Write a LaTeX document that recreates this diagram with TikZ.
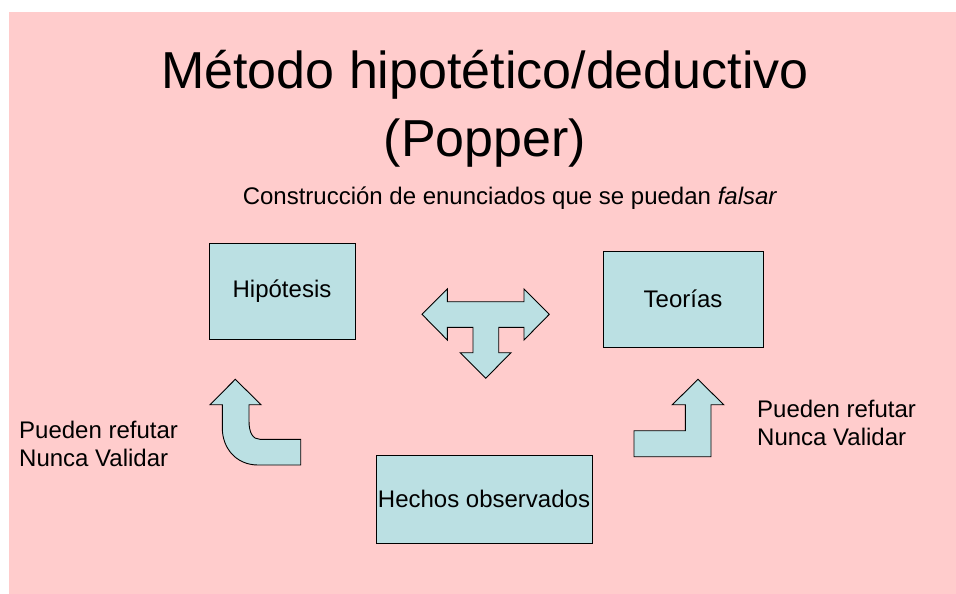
\documentclass[tikz,border=0pt]{standalone}
\usepackage{fontspec}
\setmainfont{Liberation Sans}
\definecolor{bgpink}{HTML}{FFCCCC}
\definecolor{boxblue}{HTML}{BBE0E3}
\tikzset{
  box/.style={draw=black, line width=0.9pt, fill=boxblue, inner sep=0pt,
    font=\fontsize{24}{28}\selectfont},
  blockarrow/.style={draw=black, line width=0.9pt, fill=boxblue, line join=miter},
  sidetext/.style={align=left, anchor=north west, inner sep=0pt,
    font=\fontsize{24}{28}\selectfont}
}
\begin{document}
\begin{tikzpicture}[x=1pt,y=-1pt]
\useasboundingbox (0,0) rectangle (956,594);
\fill[white] (0,0) rectangle (956,594);
\fill[bgpink] (9,12) rectangle (956,594);

\node[align=center, inner sep=0pt, font=\fontsize{52}{68}\selectfont] (title) at (485,109)
  {Método hipotético/deductivo\\(Popper)};
\node[inner sep=0pt, font=\fontsize{24}{28}\selectfont] (sub) at (510,198)
  {Construcción de enunciados que se puedan \textit{falsar}};

\node[box, minimum width=146pt, minimum height=96pt] (hip) at (282,291) {Hipótesis};
\node[box, minimum width=160pt, minimum height=96pt] (teo) at (683,299) {Teorías};
\node[box, minimum width=216pt, minimum height=88pt] (hech) at (484,499) {Hechos observados};

% T-shaped block arrow (left-right-down)
\draw[blockarrow] (422,314.3) -- (447.3,289) -- (447.3,301.7) -- (524,301.7) -- (524,289)
  -- (549.3,314.3) -- (524,340) -- (524,327.3) -- (498.7,327.3) -- (498.7,352.7)
  -- (511,352.7) -- (485.7,378.3) -- (460.3,352.7) -- (473,352.7) -- (473,327.3)
  -- (447.3,327.3) -- (447.3,340) -- cycle;

% left curved up arrow
\draw[blockarrow] (235.3,379.3) -- (261,404.7) -- (249,404.7) -- (249,421)
  .. controls (249,433) and (253,439.3) .. (260,439.3) -- (300.7,439.3) -- (300.7,465)
  -- (258,465) .. controls (236,465) and (222.3,448) .. (222.3,428) -- (222.3,404.7)
  -- (210,404.7) -- cycle;

% right bent up arrow
\draw[blockarrow] (698,379.3) -- (723.7,404.7) -- (711,404.7) -- (711,456.7) -- (634,456.7)
  -- (634,430.7) -- (685.3,430.7) -- (685.3,404.7) -- (672.3,404.7) -- cycle;

\node[sidetext] (lt) at (19,421) {Pueden refutar\\Nunca Validar};
\node[sidetext] (rt) at (757,400) {Pueden refutar\\Nunca Validar};
\end{tikzpicture}
\end{document}
